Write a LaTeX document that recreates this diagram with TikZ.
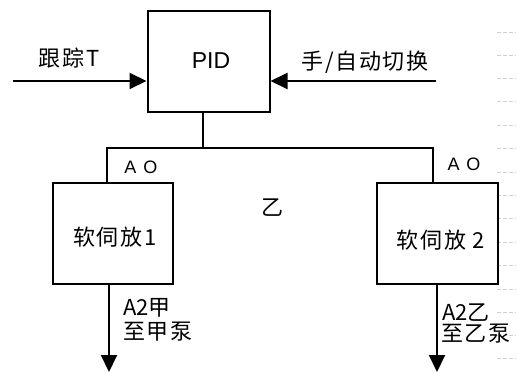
\documentclass[tikz,border=0pt]{standalone}
\usepackage{fontspec}
\setmainfont{Liberation Sans}
\newfontfamily\cjk[LetterSpace=8]{Noto Sans CJK SC}
\newfontfamily\cjkn{Noto Sans CJK SC}
\usetikzlibrary{arrows.meta}
\begin{document}
\begin{tikzpicture}[x=1pt,y=-1pt,
  box/.style={draw, line width=2pt, inner sep=0pt},
  wire/.style={line width=2pt},
  flow/.style={line width=2pt, -{Triangle[length=17pt,width=16pt]}},
  lbl/.style={inner sep=0pt, font=\cjk\fontsize{22}{22}\selectfont},
  latin/.style={inner sep=0pt, font=\fontsize{23}{23}\selectfont},
  aolbl/.style={inner sep=0pt, font=\fontsize{18}{18}\selectfont},
  tick/.style={draw=black!18, line width=0.8pt, dash pattern=on 4pt off 2pt}]
\useasboundingbox (0,0) rectangle (517,372);
% faint margin marks
\foreach \yy in {32,55,78,101,125,148,172,195,218,242,265,289,312,335,358}
  \draw[tick] (497,\yy) -- (516,\yy);
% boxes
\node[box, minimum width=122pt, minimum height=101pt] (pid) at (208.5,61.5) {};
\node[latin] (pidt) at (211,61) {PID};
\node[box, minimum width=120pt, minimum height=101pt] (s1) at (113,233.5) {};
\node[lbl] (s1t) at (115,237) {软伺放1};
\node[box, minimum width=121pt, minimum height=101pt] (s2) at (437.5,233.5) {};
\node[lbl] (s2t) at (441,240) {软伺放 2};
% inputs
\coordinate (inL) at (13,81);
\coordinate (inR) at (436,81);
\draw[flow] (inL) -- (inL -| pid.west);
\draw[flow] (inR) -- (inR -| pid.east);
\node[lbl] (tl) at (69,58) {跟踪T};
\node[lbl] (tr) at (365,62) {手/自动切换};
% branch
\coordinate (j) at (203,148);
\coordinate (jl) at (107,148);
\coordinate (jr) at (433,148);
\draw[wire] (j |- pid.south) -- (j);
\draw[wire] (jl |- s1.north) -- (jl) -- (jr) -- (jr |- s2.north);
\node[aolbl] (ao1) at (141,167) {A\hspace{7pt}O};
\node[aolbl] (ao2) at (464,164) {A\hspace{7pt}O};
\node[lbl] (yi) at (272,208) {乙};
% outputs
\coordinate (o1) at (109,372);
\coordinate (o2) at (437,372);
\draw[flow] (o1 |- s1.south) -- (o1);
\draw[flow] (o2 |- s2.south) -- (o2);
\node[lbl, anchor=west] (a1) at (123,308) {{\cjkn A2}甲};
\node[lbl, anchor=west] (b1) at (123,332) {至甲泵};
\node[lbl, anchor=west] (a2) at (442,313) {{\cjkn A2}乙};
\node[lbl, anchor=west] (b2) at (441,334) {至乙泵};
\end{tikzpicture}
\end{document}
